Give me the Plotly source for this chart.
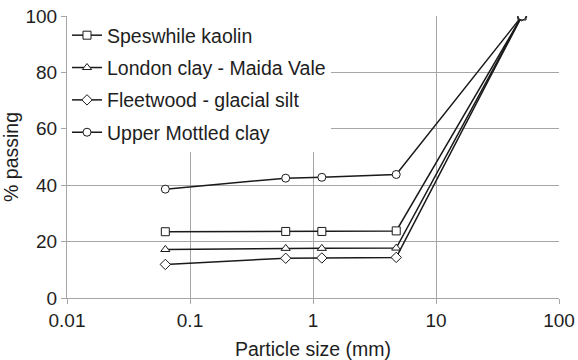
import plotly.graph_objects as go

# Sieve sizes (mm) and percentage passing for each soil
sieve_mm = [0.063, 0.6, 1.18, 4.75, 50]

series_names = [
    "Speswhile kaolin",
    "London clay - Maida Vale",
    "Fleetwood - glacial silt",
    "Upper Mottled clay",
]
speswhile_kaolin = [23.5, 23.6, 23.6, 23.8, 100]
london_clay = [17.2, 17.6, 17.6, 17.7, 100]
fleetwood_silt = [11.9, 14.1, 14.2, 14.4, 100]
upper_mottled = [38.6, 42.5, 42.8, 43.8, 100]

x_tick_vals = [0.01, 0.1, 1, 10, 100]
x_tick_text = ["0.01", "0.1", "1", "10", "100"]

symbols = ["square", "triangle-up", "diamond", "circle"]
values = [speswhile_kaolin, london_clay, fleetwood_silt, upper_mottled]

FONT = "Liberation Sans, Arial, sans-serif"
TEXT = "#1e1e1e"
GRID = "#a6a6a6"

fig = go.Figure()
for i, (name, ys, sym) in enumerate(zip(series_names, values, symbols)):
    fig.add_trace(go.Scatter(
        x=sieve_mm, y=ys, name=name, mode="lines+markers",
        legendgroup=f"g{i}",
        line=dict(color="#1a1a1a", width=1.5),
        marker=dict(symbol=sym, size=8, color="white",
                    line=dict(color="#1a1a1a", width=1)),
    ))

fig.update_layout(
    width=578, height=360,
    margin=dict(l=67, r=19, t=16, b=62),
    paper_bgcolor="white", plot_bgcolor="white",
    font=dict(family=FONT, size=19, color=TEXT),
    legend=dict(
        x=0.0, y=1.0, xanchor="left", yanchor="top",
        bgcolor="white", borderwidth=0,
        font=dict(family=FONT, size=19.5, color=TEXT),
        tracegroupgap=4, itemwidth=30,
    ),
    xaxis=dict(
        type="log", range=[-2, 2], automargin=False,
        tickvals=x_tick_vals, ticktext=x_tick_text,
        showgrid=True, gridcolor=GRID, gridwidth=1,
        showline=True, linecolor=GRID, linewidth=1,
        ticks="outside", ticklen=5, tickcolor=GRID,
        zeroline=False,
        title=dict(text="Particle size (mm)", font=dict(size=19.5)),
        tickfont=dict(size=19),
    ),
    yaxis=dict(
        range=[0, 100], dtick=20, automargin=False,
        showgrid=True, gridcolor=GRID, gridwidth=1,
        showline=True, linecolor=GRID, linewidth=1,
        ticks="outside", ticklen=5, tickcolor=GRID,
        zeroline=False,
        title=dict(text="% passing", font=dict(size=19.5), standoff=2),
        tickfont=dict(size=19),
    ),
)

fig.write_html("out.html")
